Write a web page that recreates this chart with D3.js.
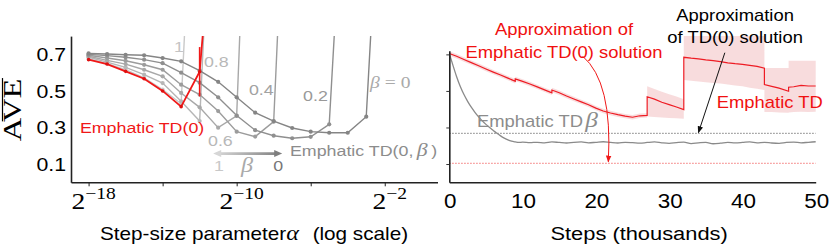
<!DOCTYPE html>
<html>
<head>
<meta charset="utf-8">
<script src="https://cdn.jsdelivr.net/npm/d3@7/dist/d3.min.js"></script>
<style>
body { margin: 0; background: #fff; }
svg { display: block; }
</style>
</head>
<body>
<svg id="chart"></svg>
<script>
const W = 830, H = 251;
const SX = 1.15;   // text in the original figure is a bit stretched sideways
const SANS = "'Liberation Sans', Arial, Helvetica, sans-serif";
const SERIF = "'Liberation Serif', 'DejaVu Serif', serif";

// ---- left panel: mean AVE against step size (log2 alpha) ----
const logAlpha = [-18, -17, -16, -15, -14, -13, -12, -11, -10, -9, -8, -7, -6, -5, -4, -3, -2];
const alphaTicks = [-18, -14, -10, -6, -2];
const alphaLabels = [-18, -10, -2];
const aveTicks = [0.1, 0.3, 0.5, 0.7];

// each list starts at 2^-18, last entry is the diverged value (off the chart)
const aveBeta0  = [.705, .702, .698, .695, .680, .662, .611, .550, .465, .381, .335, .297, .277, .271, .271, .359, 2.2];
const aveBeta02 = [.700, .693, .684, .671, .652, .600, .545, .465, .365, .285, .255, .241, .249, .317, 2.1];
const aveBeta04 = [.695, .680, .665, .643, .616, .534, .480, .390, .277, .250, .332, 2.6];
const aveBeta06 = [.690, .667, .647, .616, .580, .489, .410, .299, .363, 3.0];
const aveBeta08 = [.684, .658, .629, .589, .543, .443, .335, 2.5];
const aveBeta1  = [.676, .649, .616, .571, .507, .430, 2.5];
const aveEtd0   = [.671, .647, .607, .567, .500, .414, .605, 1.8];
const etd0ErrAt = -12, etd0ErrLo = 0.47, etd0ErrHi = 0.74;

const betaNames  = ["1", "0.8", "0.6", "0.4", "0.2", "0"];
const betaSeries = [aveBeta1, aveBeta08, aveBeta06, aveBeta04, aveBeta02, aveBeta0];
const betaColors = ["#c9c9c9", "#b6b6b6", "#a8a8a8", "#9c9c9c", "#8f8f8f", "#858585"];

// ---- right panel: learning curves ----
const stepTicks = [0, 10, 20, 30, 40, 50];
const tdSolution = 0.268, etdSolution = 0.104;

const gtdSteps = [0, 0.5, 1, 1.5, 2, 2.5, 3, 3.5, 4, 4.5, 5, 5.5, 6, 6.5, 7, 7.5, 8, 8.5, 9, 9.5,
  10, 11, 12, 13, 14, 15, 16, 17, 18, 19, 20, 21, 22, 23, 24, 25, 26, 27, 28, 29, 30,
  31, 32, 33, 34, 35, 36, 37, 38, 39, 40, 41, 42, 43, 44, 45, 46, 47, 48, 49, 50];
const gtdVals = [.705, .640, .578, .524, .480, .443, .411, .383, .358, .336, .317, .300, .284, .268, .254, .242, .232, .225, .221, .218,
  .220, .217, .219, .216, .221, .218, .215, .219, .221, .216, .219, .222, .218, .215, .219, .217, .214, .218, .221, .216, .213,
  .217, .220, .212, .216, .219, .211, .214, .219, .216, .218, .221, .216, .219, .215, .213, .218, .220, .216, .219, .222];

const etdSteps = [0, 1, 2, 3, 4, 5, 6, 7, 8, 9, 9, 10, 11, 12, 13, 14, 14, 15, 16, 17, 18, 19, 20, 21, 22, 23, 24, 25, 26, 27,
  27, 28, 29, 30, 31, 32,
  32, 33, 34, 35, 36, 37, 38, 39, 40, 41, 42, 43,
  43, 44, 45, 46.3, 46.3, 47, 48, 49, 50];
const etdVals = [.705, .690, .672, .655, .638, .620, .603, .587, .570, .553, .566, .552, .538, .522, .506, .490, .505, .490, .472, .456, .440, .424, .406, .390, .379, .370, .362, .356, .364, .366,
  .468, .455, .438, .425, .412, .398,
  .684, .679, .675, .670, .666, .660, .654, .649, .645, .640, .634, .624,
  .535, .525, .515, .498, .520, .523, .530, .527, .527];
const etdLo = [.693, .678, .660, .643, .626, .608, .591, .575, .558, .541, .554, .540, .526, .510, .494, .478, .493, .478, .460, .444, .428, .412, .394, .378, .367, .358, .350, .344, .352, .354,
  .360, .358, .355, .352, .350, .348,
  .560, .556, .552, .548, .544, .540, .535, .530, .525, .518, .512, .505,
  .385, .385, .382, .380, .382, .384, .386, .385, .386];
const etdHi = [.717, .702, .684, .667, .650, .632, .615, .599, .582, .565, .578, .564, .550, .534, .518, .502, .517, .502, .484, .468, .452, .436, .418, .402, .391, .382, .374, .368, .376, .378,
  .525, .510, .495, .482, .470, .455,
  .800, .800, .800, .800, .800, .800, .800, .800, .800, .800, .800, .800,
  .625, .625, .625, .625, .665, .665, .665, .665, .665];

const svg = d3.select("#chart").attr("width", W).attr("height", H);
svg.append("rect").attr("width", W).attr("height", H).attr("fill", "#fff");

const defs = svg.append("defs");

function addText(g, x, y, size, color, opts) {
  opts = opts || {};
  return g.append("text")
    .attr("transform", "translate(" + x + "," + y + ") scale(" + (opts.sx || SX) + ",1)")
    .attr("text-anchor", opts.anchor || "start")
    .style("font-family", opts.family || SANS)
    .style("font-size", size + "px")
    .style("fill", color);
}

// ================= left panel =================
const xL = d3.scaleLog().base(2)
  .domain([Math.pow(2, -18.95), Math.pow(2, 0.85)])
  .range([71, 437.5]);
const yL = d3.scaleLinear().domain([0, 0.8]).range([182.3, 36.1]);

defs.append("clipPath").attr("id", "clipL")
  .append("rect").attr("x", 71).attr("y", 36).attr("width", 367).attr("height", 147);

const left = svg.append("g");

function seriesPoints(vals) {
  return vals.map((v, i) => ({a: Math.pow(2, logAlpha[i]), v: v}));
}
const lineL = d3.line().x(d => xL(d.a)).y(d => yL(d.v));

const plotL = left.append("g").attr("clip-path", "url(#clipL)");

betaSeries.forEach(function(vals, i) {
  const pts = seriesPoints(vals);
  plotL.append("path")
    .attr("d", lineL(pts))
    .attr("fill", "none")
    .attr("stroke", betaColors[i])
    .attr("stroke-width", 1.4);
  plotL.selectAll(".pt" + i).data(pts.filter(d => d.v < 1)).enter().append("circle")
    .attr("cx", d => xL(d.a))
    .attr("cy", d => yL(d.v))
    .attr("r", 2.1)
    .attr("fill", betaColors[i]);
});

// Emphatic TD(0)
const redPts = seriesPoints(aveEtd0);
plotL.append("line")
  .attr("x1", xL(Math.pow(2, etd0ErrAt))).attr("x2", xL(Math.pow(2, etd0ErrAt)))
  .attr("y1", yL(etd0ErrLo)).attr("y2", yL(etd0ErrHi))
  .attr("stroke", "#f01818").attr("stroke-width", 1.6);
plotL.append("path")
  .attr("d", lineL(redPts))
  .attr("fill", "none")
  .attr("stroke", "#f01818")
  .attr("stroke-width", 1.8);
plotL.selectAll(".redpt").data(redPts.filter(d => d.v < 1)).enter().append("circle")
  .attr("cx", d => xL(d.a))
  .attr("cy", d => yL(d.v))
  .attr("r", 1.8)
  .attr("fill", "#e01010");

// axes
const axL = left.append("g").attr("transform", "translate(0," + yL(0) + ")")
  .call(d3.axisBottom(xL).tickValues(alphaTicks.map(e => Math.pow(2, e))).tickSize(4).tickSizeOuter(0).tickFormat(""));
const ayL = left.append("g").attr("transform", "translate(71,0)")
  .call(d3.axisLeft(yL).tickValues(aveTicks).tickSize(0).tickSizeOuter(0).tickFormat(""));
[axL, ayL].forEach(function(a) {
  a.select(".domain").attr("stroke", "#222").attr("stroke-width", 1.6);
  a.selectAll(".tick line").attr("stroke", "#222").attr("stroke-width", 1);
});

aveTicks.forEach(function(v) {
  addText(left, 66, yL(v) + 6.6, 18.5, "#000", {anchor: "end"}).text(d3.format(".1f")(v));
});

alphaLabels.forEach(function(e) {
  const t = addText(left, xL(Math.pow(2, e)) + 5, 209, 24, "#000", {anchor: "middle", family: SERIF});
  t.append("tspan").text("2");
  t.append("tspan").attr("dy", -10).style("font-size", "17px").text("\u2212" + Math.abs(e));
});

// y label: A + overlined VE
const yLab = svg.append("g").attr("transform", "translate(21,110) rotate(-90) scale(1.3,1)");
const yTxt = yLab.append("text").style("font-family", SERIF).style("font-size", "25px").style("fill", "#000").text("AVE");
const yW = yTxt.node().getComputedTextLength();
yTxt.attr("x", -yW / 2);
const aW = yTxt.node().getSubStringLength(0, 1);
yLab.append("line")
  .attr("x1", -yW / 2 + aW + 0.5).attr("x2", yW / 2 + 0.5)
  .attr("y1", -18.5).attr("y2", -18.5)
  .attr("stroke", "#000").attr("stroke-width", 1.2);

// x label
const xLab = addText(svg, 100, 240, 18, "#000");
xLab.append("tspan").text("Step-size parameter");
xLab.append("tspan").attr("dx", 0).style("font-family", SERIF).style("font-style", "italic").style("font-size", "21px").text("\u03b1");
xLab.append("tspan").attr("dx", 12).text("(log scale)");

// beta labels, placed in data units (log2 alpha, AVE)
const betaLabelE = [-13.39, -11.77, -11.55, -9.34, -6.41];
const betaLabelV = [0.713, 0.631, 0.201, 0.475, 0.447];
const betaLabelC = ["#c4c4c4", "#b8b8b8", "#b8b8b8", "#a2a2a2", "#999"];
betaNames.slice(0, 5).forEach(function(name, i) {
  addText(left, xL(Math.pow(2, betaLabelE[i])), yL(betaLabelV[i]), 15.5, betaLabelC[i]).text(name);
});
const b0 = addText(left, xL(Math.pow(2, -2.79)), yL(0.516), 17, "#aaa", {family: SERIF});
b0.append("tspan").style("font-style", "italic").text("\u03b2");
b0.append("tspan").text(" = 0");

addText(left, xL(Math.pow(2, -18.47)), yL(0.272), 15.5, "#f01818").text("Emphatic TD(0)");

const etdb = addText(left, xL(Math.pow(2, -7.12)), yL(0.144), 15.5, "#8c8c8c");
etdb.append("tspan").text("Emphatic TD(0,");
etdb.append("tspan").attr("dx", 3).style("font-family", SERIF).style("font-style", "italic").style("font-size", "19px").text("\u03b2");
etdb.append("tspan").attr("dx", 3).text(")");

// beta arrow: light at 1, dark at 0
const grad = defs.append("linearGradient").attr("id", "betaGrad")
  .attr("gradientUnits", "userSpaceOnUse")
  .attr("x1", xL(Math.pow(2, -11.27))).attr("x2", xL(Math.pow(2, -7.54)))
  .attr("y1", 0).attr("y2", 0);
grad.append("stop").attr("offset", 0).attr("stop-color", "#dadada");
grad.append("stop").attr("offset", 1).attr("stop-color", "#7e7e7e");
const ax0 = xL(Math.pow(2, -11.27)), ax1 = xL(Math.pow(2, -7.54)), ay = yL(0.157);
left.append("line").attr("x1", ax0 + 4).attr("x2", ax1 - 5).attr("y1", ay).attr("y2", ay)
  .attr("stroke", "url(#betaGrad)").attr("stroke-width", 2.6);
left.append("path").attr("d", "M" + ax0 + "," + ay + "l8,-3.5l0,7z").attr("fill", "#d6d6d6");
left.append("path").attr("d", "M" + ax1 + "," + ay + "l-8,-3.5l0,7z").attr("fill", "#7e7e7e");
addText(left, xL(Math.pow(2, -11.22)), yL(0.06), 15.5, "#c8c8c8").text("1");
addText(left, xL(Math.pow(2, -9.76)), yL(0.058), 21, "#aaa", {family: SERIF}).style("font-style", "italic").text("\u03b2");
addText(left, xL(Math.pow(2, -8.03)), yL(0.06), 15.5, "#777").text("0");

// ================= right panel =================
const xR = d3.scaleLinear().domain([0, 50]).range([449.3, 815.7]);
const yR = d3.scaleLinear().domain([0, 0.8]).range([182.3, 36.1]);

defs.append("clipPath").attr("id", "clipR")
  .append("rect").attr("x", 449).attr("y", 36).attr("width", 370).attr("height", 147);

const right = svg.append("g");
const plotR = right.append("g").attr("clip-path", "url(#clipR)");

const etd = etdSteps.map((s, i) => ({s: s, v: etdVals[i], lo: etdLo[i], hi: etdHi[i]}));
const gtd = gtdSteps.map((s, i) => ({s: s, v: gtdVals[i]}));

plotR.append("path")
  .attr("d", d3.area().x(d => xR(d.s)).y0(d => yR(d.lo)).y1(d => yR(d.hi))(etd))
  .attr("fill", "#f3c4c7")
  .attr("fill-opacity", 0.6);

// solution levels
plotR.append("line").attr("x1", xR(0)).attr("x2", xR(50)).attr("y1", yR(tdSolution)).attr("y2", yR(tdSolution))
  .attr("stroke", "#555").attr("stroke-width", 0.9).attr("stroke-dasharray", "1.3,1.7");
plotR.append("line").attr("x1", xR(0)).attr("x2", xR(50)).attr("y1", yR(etdSolution)).attr("y2", yR(etdSolution))
  .attr("stroke", "#f04a4a").attr("stroke-width", 0.9).attr("stroke-dasharray", "1.3,1.7");

plotR.append("path")
  .attr("d", d3.line().x(d => xR(d.s)).y(d => yR(d.v)).curve(d3.curveMonotoneX)(gtd))
  .attr("fill", "none").attr("stroke", "#8a8a8a").attr("stroke-width", 1.3);

plotR.append("path")
  .attr("d", d3.line().x(d => xR(d.s)).y(d => yR(d.v))(etd))
  .attr("fill", "none").attr("stroke", "#ee1c24").attr("stroke-width", 1.2);

// axes
const yRaxis = yR.copy().domain([0, 0.72]).range([yR(0), yR(0.72)]);
const ayR = right.append("g").attr("transform", "translate(" + xR(0) + ",0)")
  .call(d3.axisLeft(yRaxis).tickValues(aveTicks).tickSize(3).tickSizeOuter(0).tickFormat(""));
const axR = right.append("g").attr("transform", "translate(0," + yR(0) + ")")
  .call(d3.axisBottom(xR).tickValues(stepTicks).tickSize(0).tickSizeOuter(0).tickFormat(""));
[axR, ayR].forEach(function(a) {
  a.select(".domain").attr("stroke", "#222").attr("stroke-width", 1.6);
  a.selectAll(".tick line").attr("stroke", "#333").attr("stroke-width", 1);
});

stepTicks.forEach(function(s) {
  addText(right, xR(s) + 1, 208, 19.5, "#000", {anchor: "middle"}).text(s);
});
addText(svg, xR(25.9), 240, 19, "#000", {anchor: "middle"}).text("Steps (thousands)");

// annotations
defs.append("marker").attr("id", "headR").attr("viewBox", "0 0 10 10").attr("refX", 9).attr("refY", 5)
  .attr("markerWidth", 7).attr("markerHeight", 7).attr("orient", "auto")
  .append("path").attr("d", "M0,1L10,5L0,9z").attr("fill", "#f01818");
defs.append("marker").attr("id", "headK").attr("viewBox", "0 0 10 10").attr("refX", 9).attr("refY", 5)
  .attr("markerWidth", 7).attr("markerHeight", 7).attr("orient", "auto")
  .append("path").attr("d", "M0,1L10,5L0,9z").attr("fill", "#111");

addText(right, xR(15.65), yR(0.806), 16, "#f01010", {anchor: "middle"}).text("Approximation of");
addText(right, xR(15.65), yR(0.682), 16, "#f01010", {anchor: "middle"}).text("Emphatic TD(0) solution");
addText(right, xR(39.0), yR(0.882), 16, "#000", {anchor: "middle"}).text("Approximation");
addText(right, xR(39.0), yR(0.762), 16, "#000", {anchor: "middle"}).text("of TD(0) solution");
addText(right, xR(36.5), yR(0.409), 16, "#f01010").text("Emphatic TD");
const gl = addText(right, xR(3.78), yR(0.305), 16, "#8c8c8c");
gl.append("tspan").text("Emphatic TD");
gl.append("tspan").attr("dx", 2).style("font-family", SERIF).style("font-style", "italic").style("font-size", "22px").text("\u03b2");

right.append("path")
  .attr("d", "M" + xR(18.2) + "," + yR(0.69) + "Q" + xR(22.3) + "," + yR(0.55) + " " + xR(21.7) + "," + yR(0.112))
  .attr("fill", "none").attr("stroke", "#f01818").attr("stroke-width", 1)
  .attr("marker-end", "url(#headR)");
right.append("line")
  .attr("x1", xR(37.6)).attr("y1", yR(0.709)).attr("x2", xR(34.0)).attr("y2", yR(0.272))
  .attr("stroke", "#111").attr("stroke-width", 1)
  .attr("marker-end", "url(#headK)");
</script>
</body>
</html>
